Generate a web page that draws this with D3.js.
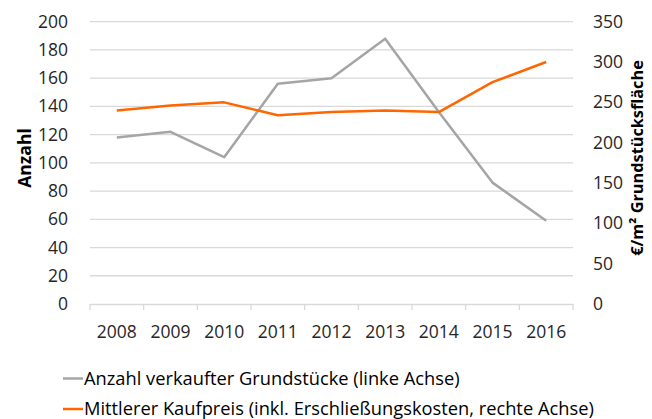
<!DOCTYPE html>
<html>
<head>
<meta charset="utf-8">
<script src="https://cdn.jsdelivr.net/npm/d3@7"></script>
<style>
  html, body { margin: 0; padding: 0; background: #fff; }
  svg { display: block; font-family: "Open Sans", sans-serif; }
</style>
</head>
<body>
<svg id="chart" width="652" height="419"></svg>
<script>
// Jahre (Kategorien)
const years = ["2008", "2009", "2010", "2011", "2012", "2013", "2014", "2015", "2016"];
// Anzahl verkaufter Grundstücke (linke Achse)
const anzahl = [118, 122, 104, 156, 160, 188, 136, 86, 59];
// Mittlerer Kaufpreis in €/m² (rechte Achse)
const kaufpreis = [240, 246, 250, 234, 238, 240, 238, 275, 300];
// Achsenticks
const leftTicks = [0, 20, 40, 60, 80, 100, 120, 140, 160, 180, 200];
const rightTicks = [0, 50, 100, 150, 200, 250, 300, 350];
// Legendentexte
const legendLabels = [
  "Anzahl verkaufter Grundstücke (linke Achse)",
  "Mittlerer Kaufpreis (inkl. Erschließungskosten, rechte Achse)"
];

const grey = "#a5a5a5", orange = "#ff6600", gridColor = "#d9d9d9", textColor = "#262626";
const svg = d3.select("#chart");
const plotL = 90, plotR = 573, plotT = 21.7, plotB = 304;
const fs = 17.5;

const x = d3.scaleBand().domain(years).range([plotL, plotR]);
const yL = d3.scaleLinear().domain([0, 200]).range([plotB, plotT]);
const yR = d3.scaleLinear().domain([0, 350]).range([plotB, plotT]);

// Gitternetzlinien
svg.append("g").selectAll("line").data(leftTicks.filter(d => d > 0)).join("line")
  .attr("x1", plotL).attr("x2", plotR)
  .attr("y1", d => yL(d)).attr("y2", d => yL(d))
  .attr("stroke", gridColor).attr("stroke-width", 1.3);

// x-Achse
const xAxis = svg.append("g").attr("transform", `translate(0,${plotB})`)
  .call(d3.axisBottom(x).tickSize(0).tickPadding(22));
xAxis.select(".domain").attr("stroke", gridColor).attr("stroke-width", 1.3);
xAxis.selectAll("text").attr("font-size", fs).attr("fill", textColor).attr("font-family", "Open Sans");
// Kategoriegrenzen als Ticks
svg.append("g").selectAll("line").data(years.map(y => x(y)).concat([x(years[years.length - 1]) + x.bandwidth()])).join("line")
  .attr("x1", d => d).attr("x2", d => d)
  .attr("y1", plotB).attr("y2", plotB + 6)
  .attr("stroke", gridColor).attr("stroke-width", 1.3);

// linke Achse
const lAxis = svg.append("g").attr("transform", `translate(${plotL},0)`)
  .call(d3.axisLeft(yL).tickValues(leftTicks).tickSize(0).tickPadding(22));
lAxis.select(".domain").remove();
lAxis.selectAll("text").attr("font-size", fs).attr("fill", textColor).attr("font-family", "Open Sans");

// rechte Achse
const rAxis = svg.append("g").attr("transform", `translate(${plotR},0)`)
  .call(d3.axisRight(yR).tickValues(rightTicks).tickSize(0).tickPadding(20));
rAxis.select(".domain").remove();
rAxis.selectAll("text").attr("font-size", fs).attr("fill", textColor).attr("font-family", "Open Sans");

// Achsentitel
svg.append("text")
  .attr("transform", `translate(31,158) rotate(-90)`)
  .attr("text-anchor", "middle").attr("font-size", fs).attr("font-weight", "bold").attr("fill", "#000")
  .text("Anzahl");
svg.append("text")
  .attr("transform", `translate(643,158) rotate(-90)`)
  .attr("text-anchor", "middle").attr("font-size", 16.3).attr("font-weight", "bold").attr("fill", "#000")
  .text("€/m² Grundstücksfläche");

// Linien
const cx = d => x(d) + x.bandwidth() / 2;
const lineL = d3.line().x((d, i) => cx(years[i])).y(d => yL(d));
const lineR = d3.line().x((d, i) => cx(years[i])).y(d => yR(d));
svg.append("path").datum(anzahl).attr("d", lineL)
  .attr("fill", "none").attr("stroke", grey).attr("stroke-width", 2.5).attr("stroke-linejoin", "round");
svg.append("path").datum(kaufpreis).attr("d", lineR)
  .attr("fill", "none").attr("stroke", orange).attr("stroke-width", 2.5).attr("stroke-linejoin", "round");

// Legende
const legend = svg.append("g");
const legendColors = [grey, orange];
const legendY = [378.5, 409];
legendLabels.forEach((t, i) => {
  legend.append("line").attr("x1", 63).attr("x2", 83).attr("y1", legendY[i]).attr("y2", legendY[i])
    .attr("stroke", legendColors[i]).attr("stroke-width", 2.5);
  legend.append("text").attr("x", 84).attr("y", legendY[i]).attr("dy", "0.35em")
    .attr("font-size", 18.3).attr("fill", "#000").text(t);
});
</script>
</body>
</html>
